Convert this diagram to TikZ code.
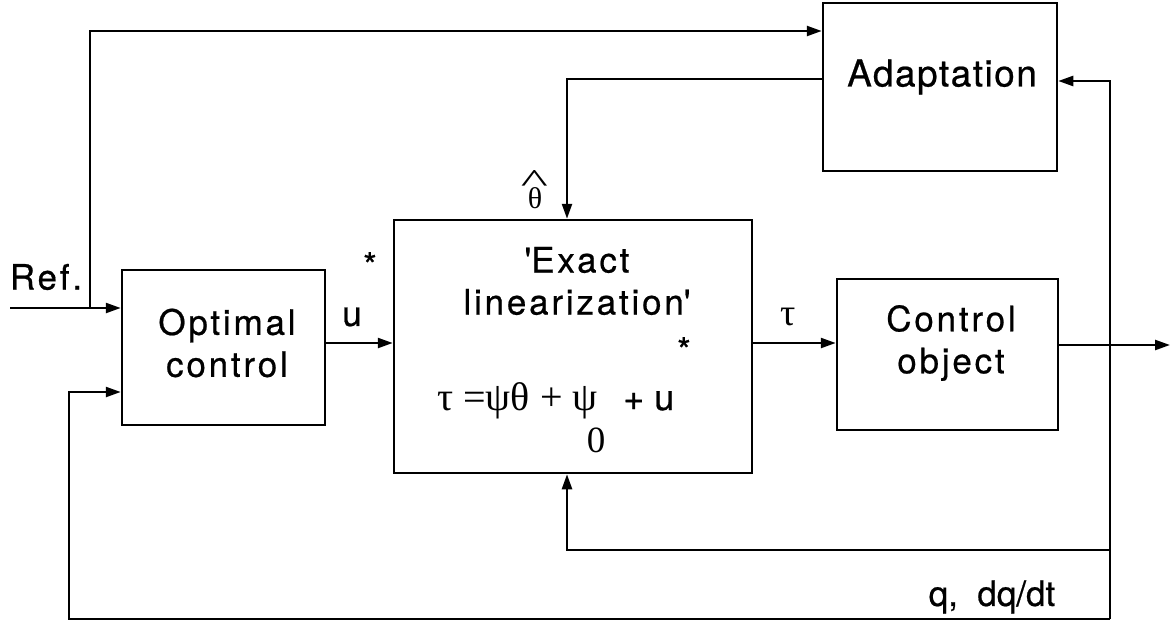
\documentclass[tikz,border=0pt]{standalone}
\usepackage{fontspec}
\setmainfont[FakeBold=0.6]{TeX Gyre Heros}
\newfontfamily\grk{Liberation Serif}
\usetikzlibrary{arrows.meta,calc}
\begin{document}
\begin{tikzpicture}[x=1pt,y=-1pt,line width=2.4pt,
  blk/.style={draw,line width=2.5pt,inner sep=0pt},
  txt/.style={inner sep=0pt,align=center,font=\fontsize{35}{42}\selectfont\addfontfeature{LetterSpace=8}},
  grl/.style={inner sep=0pt,font=\fontsize{38}{42}\selectfont\grk},
  arr/.style={-{Triangle[length=15pt,width=10pt]}}]
\useasboundingbox (0,0) rectangle (1170,627);
% blocks
\node[blk,minimum width=203pt,minimum height=155pt] (opt) at (223.5,347.5) {};
\node[blk,minimum width=358pt,minimum height=253pt] (exact) at (573,346.5) {};
\node[blk,minimum width=221pt,minimum height=151pt] (ctrl) at (947.5,354.5) {};
\node[blk,minimum width=234pt,minimum height=168pt] (adapt) at (940,87) {};
% block texts
\node[txt] (opttxt) at (227,343) {Optimal\\control};
\node[txt] (exacttxt) at (577,281) {\textquotesingle Exact\\linearization\textquotesingle};
\node[txt] (ctrltxt) at (951,343) {Control\\object};
\node[txt,font=\fontsize{37}{42}\selectfont\addfontfeature{LetterSpace=4}] (adapttxt) at (942,77) {Adaptation};
% equation
\node[grl,anchor=base west,font=\fontsize{40}{42}\selectfont\grk] (eq1) at (436,410) {τ =ψθ + ψ};
\node[txt,anchor=base west,font=\fontsize{36}{42}\selectfont] (eq2) at (622,410) {+ u};
\node[grl,font=\fontsize{37}{42}\selectfont\grk] (eq0) at (596,440) {0};
\node[txt] (eqs) at (684,350) {*};
% labels
\node[txt] (reflbl) at (46,277) {Ref.};
\node[txt] (ulbl) at (352,317) {u};
\node[txt] (uslbl) at (370,265) {*};
\node[grl] (taulbl) at (788,317) {τ};
\node[inner sep=0pt,anchor=base] (thlbl) at (535,208) {\fontsize{30}{30}\selectfont\grk θ\llap{\raisebox{16pt}{\makebox[15.6pt][c]{\scalebox{2.4}[1.4]{\fontsize{24}{24}\selectfont\textasciicircum}}}}};
\node[txt,font=\fontsize{35}{40}\selectfont] (qlbl) at (992,597) {q,\ \ dq/dt};
% coordinates
\coordinate (refin) at (10,308);
\coordinate (refbr) at (90,308);
\coordinate (topc) at (90,31);
\coordinate (thc) at (567,79);
\coordinate (uy) at (0,343);
\coordinate (out) at (1170,345);
\coordinate (fbtop) at (1110,81);
\coordinate (fbmid) at (1110,550);
\coordinate (fbbot) at (1110,619);
\coordinate (blc) at (69,619);
\coordinate (blt) at (69,392);
% connectors
\draw[arr] (refin) -- (opt.west |- refin);
\draw[arr] (refbr) -- (topc) -- (topc -| adapt.west);
\draw[arr] (adapt.west |- thc) -- (thc) -- (thc |- exact.north);
\draw[arr] (opt.east |- uy) -- (exact.west |- uy);
\draw[arr] (exact.east |- uy) -- (ctrl.west |- uy);
\draw[arr] (ctrl.east |- out) -- (out);
\draw[arr] (fbbot) -- (fbtop) -- (adapt.east |- fbtop);
\draw[arr] (fbmid) -- (fbmid -| thc) -- (thc |- exact.south);
\draw[arr] (fbbot) -- (blc) -- (blt) -- (opt.west |- blt);
\end{tikzpicture}
\end{document}
